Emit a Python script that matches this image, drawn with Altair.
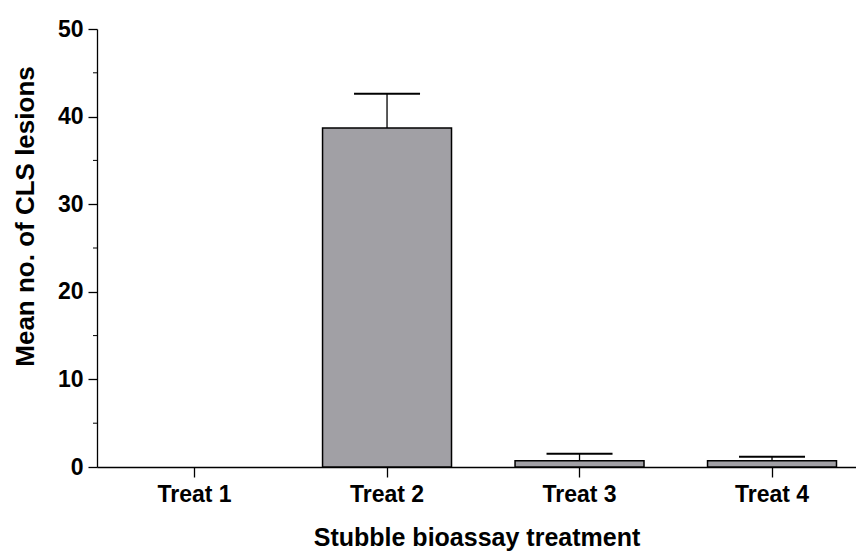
import altair as alt
import pandas as pd

# Mean lesion counts per stubble treatment, with error (SEM)
treatments = ["Treat 1", "Treat 2", "Treat 3", "Treat 4"]
means = [0.0, 38.7, 0.72, 0.72]
errors = [0.0, 3.9, 0.8, 0.46]
minor_ticks = [5, 15, 25, 35, 45]

df = pd.DataFrame({"treatment": treatments, "mean": means, "err": errors})
df["upper"] = df["mean"] + df["err"]
df_bars = df[df["mean"] > 0]
df_err = df[df["err"] > 0]
df_minor = pd.DataFrame({"v": minor_ticks})

FONT = "Liberation Sans"

x_scale = alt.Scale(domain=treatments, paddingInner=0.33, paddingOuter=0.1365, align=0.629)
y_scale = alt.Scale(domain=[0, 50], nice=False, zero=True)

x_enc = alt.X(
    "treatment:N",
    scale=x_scale,
    axis=alt.Axis(
        title="Stubble bioassay treatment",
        labelAngle=0,
        labelFont=FONT,
        labelFontSize=23,
        labelFontWeight="bold",
        labelColor="black",
        labelPadding=6,
        tickSize=10,
        tickColor="black",
        tickWidth=1.3,
        domainColor="black",
        domainWidth=1.3,
        titleFont=FONT,
        titleFontSize=25,
        titleFontWeight="bold",
        titleColor="black",
        titleY=78,
        titleBaseline="alphabetic",
        grid=False,
    ),
)

y_enc = alt.Y(
    "mean:Q",
    scale=y_scale,
    axis=alt.Axis(
        title="Mean no. of CLS lesions",
        values=[0, 10, 20, 30, 40, 50],
        labelFont=FONT,
        labelFontSize=23,
        labelFontWeight="bold",
        labelColor="black",
        labelPadding=5,
        tickSize=9,
        tickColor="black",
        tickWidth=1.3,
        domainColor="black",
        domainWidth=1.3,
        titleFont=FONT,
        titleFontSize=26,
        titleFontWeight="bold",
        titleColor="black",
        titleAngle=270,
        titleX=-72,
        titleY=187,
        titleAlign="center",
        titleBaseline="middle",
        grid=False,
    ),
)

bars = alt.Chart(df_bars).mark_bar(
    color="#a1a0a5", stroke="black", strokeWidth=1.5
).encode(x=x_enc, y=y_enc)

stems = alt.Chart(df_err).mark_rule(color="black", strokeWidth=1.3).encode(
    x=alt.X("treatment:N", scale=x_scale),
    y=alt.Y("mean:Q", scale=y_scale),
    y2="upper:Q",
)

caps = alt.Chart(df_err).mark_tick(
    color="black", thickness=2, size=66, opacity=1
).encode(
    x=alt.X("treatment:N", scale=x_scale),
    y=alt.Y("upper:Q", scale=y_scale),
)

minor = alt.Chart(df_minor).mark_rule(color="black", strokeWidth=1).encode(
    y=alt.Y("v:Q", scale=y_scale),
    x=alt.value(-4),
    x2=alt.value(0),
)

chart = (
    alt.layer(bars, stems, caps, minor)
    .properties(
        width=759,
        height=438,
        autosize=alt.AutoSizeParams(type="none"),
        padding={"left": 97, "top": 29, "right": 0, "bottom": 84},
        background="white",
    )
    .configure_view(stroke=None)
)

chart.save("out.html", embed_options={"renderer": "svg", "actions": False})
